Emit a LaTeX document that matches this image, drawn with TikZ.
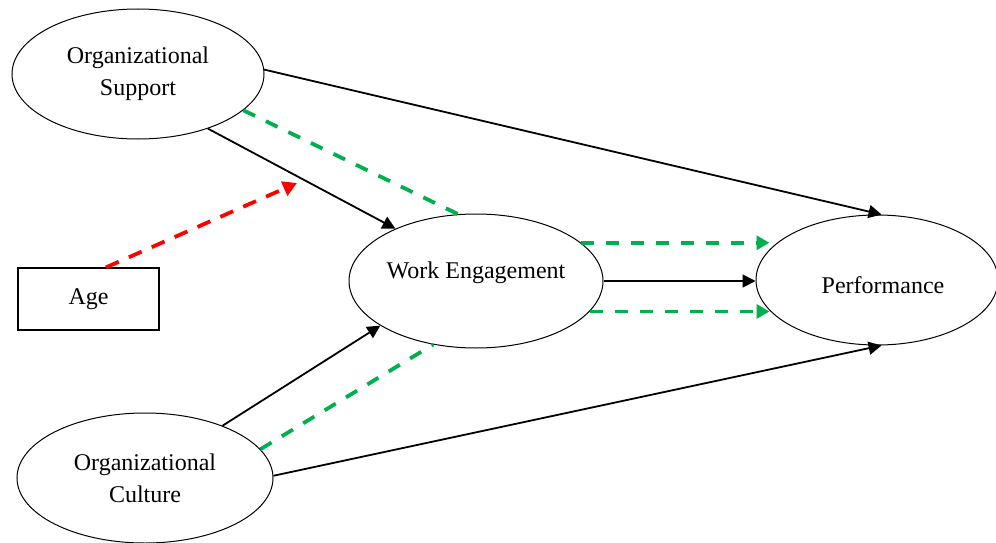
\documentclass[tikz,border=0pt]{standalone}
\usepackage{fontspec}
\setmainfont{Liberation Serif}
\usetikzlibrary{shapes.geometric,arrows.meta,calc}

\definecolor{medgreen}{RGB}{0,176,80}
\definecolor{medred}{RGB}{255,0,0}

\tikzset{
  construct/.style={ellipse, draw, line width=1pt, inner sep=0pt,
    align=center, font=\fontsize{24}{32}\selectfont},
  ctrlbox/.style={rectangle, draw, line width=1.2pt, inner sep=0pt,
    minimum width=141pt, minimum height=62pt, font=\fontsize{24}{32}\selectfont},
  direct/.style={line width=1.8pt, -{Triangle[length=13pt,width=13pt]}},
  mediated/.style={line width=3.8pt, medgreen, dash pattern=on 13pt off 12pt},
  mediatedarr/.style={mediated, -{Triangle[length=13pt,width=14pt]}},
  moderated/.style={line width=3.8pt, medred, dash pattern=on 14pt off 11pt,
    -{Triangle[length=14pt,width=15pt]}}
}

\begin{document}
\begin{tikzpicture}[x=1pt, y=-1pt]
  \useasboundingbox (0,0) rectangle (996,543);

  % constructs
  \node[construct, minimum width=252pt, minimum height=130pt] (os) at (138,74)
    {Organizational\\Support};
  \node[construct, minimum width=256pt, minimum height=130pt] (oc) at (145,478)
    {Organizational\\Culture};
  \node[construct, minimum width=254pt, minimum height=134pt] (we) at (476,281)
    {\raisebox{21pt}{Work Engagement}};
  \node[construct, minimum width=242pt, minimum height=130pt] (perf) at (877,280)
    {\smash{\raisebox{-13pt}{\hspace{12pt}Performance}}};
  \node[ctrlbox] (age) at (88.5,299) {\raisebox{3pt}{Age}};

  % point on the support path that age moderates
  \coordinate (modpt) at (297,183);

  % direct effects
  \draw[direct] (os.2) -- (perf.86);
  \draw[direct] (os.-38.6) -- (we.147);
  \draw[direct] (oc.34.7) -- (we.205.8);
  \draw[direct] (oc.1.3) -- (perf.-86);
  \draw[direct] (we.east) -- (we.east -| perf.west);

  % mediated paths through work engagement
  \draw[mediated] (os.-19.1) -- (we.105);
  \draw[mediated] (oc.14.4) -- (we.236);
  \draw[mediatedarr] (we.20.7) -- ($(we.20.7 -| perf.west)+(14,0)$);
  \draw[mediatedarr] (we.-15.2) -- ($(we.-15.2 -| perf.west)+(14,0)$);

  % moderation by age
  \draw[moderated] ([xshift=17.5pt]age.north) -- (modpt);
\end{tikzpicture}
\end{document}
